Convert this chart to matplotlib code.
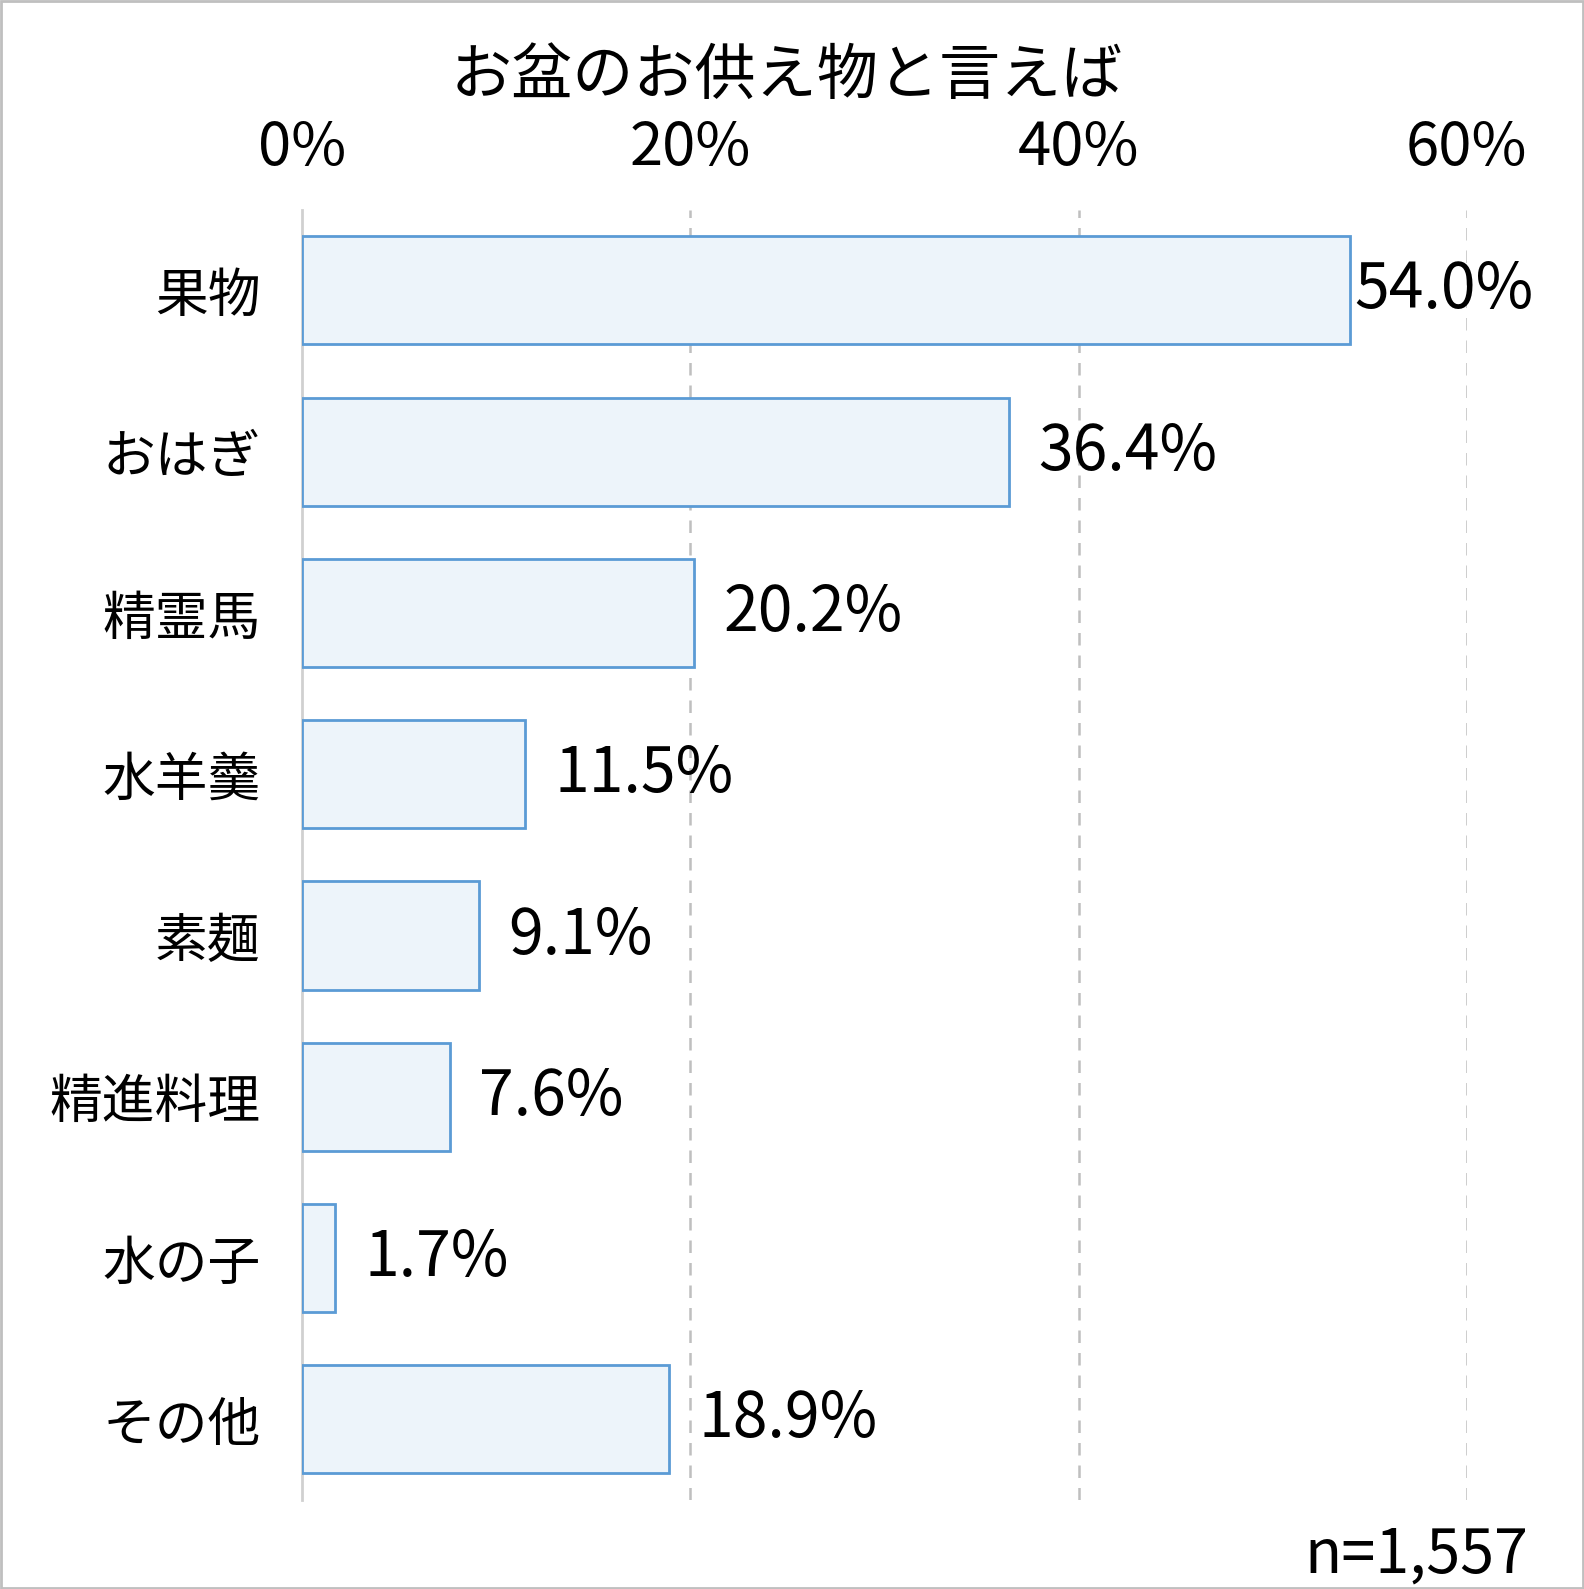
import matplotlib
matplotlib.use("Agg")
import matplotlib.pyplot as plt
from matplotlib.patches import Rectangle

plt.rcParams['font.family'] = ['Noto Sans CJK JP', 'DejaVu Sans']

categories = ["果物", "おはぎ", "精霊馬", "水羊羹", "素麺", "精進料理", "水の子", "その他"]
values = [54.0, 36.4, 20.2, 11.5, 9.1, 7.6, 1.7, 18.9]
ticks = [0, 20, 40, 60]
tick_labels = ["0%", "20%", "40%", "60%"]
title = "お盆のお供え物と言えば"
note = "n=1,557"

fig = plt.figure(figsize=(15.84, 15.89), dpi=100)
ax = fig.add_axes([0.1907, 0.056, 0.926 - 0.1907, 0.868 - 0.056])
y = list(range(len(categories)))
ax.barh(y, values, height=0.67, color="#EDF4FA", edgecolor="#5B9BD5", linewidth=2, zorder=3)
ax.set_ylim(len(categories) - 0.5, -0.5)
ax.set_xlim(0, 60)
ax.set_yticks(y)
ax.set_yticklabels(categories, fontsize=38)
ax.tick_params(axis='y', length=0, pad=30)
ax.xaxis.tick_top()
ax.set_xticks(ticks)
ax.set_xticklabels(tick_labels, fontsize=43)
ax.tick_params(axis='x', length=0, pad=22)
for t in ticks[1:]:
    ax.axvline(t, color="#BFBFBF", linestyle=(0, (5, 4)), linewidth=1.8, zorder=1)
for s in ["top", "right", "bottom"]:
    ax.spines[s].set_visible(False)
ax.spines["left"].set_color("#D0D0D0")
ax.spines["left"].set_linewidth(2)
for yi, v in zip(y, values):
    ax.text(v + 0.2 if v > 50 else v + 1.5, yi, f"{v:.1f}%", va="center", ha="left",
            fontsize=45, clip_on=False, zorder=4)
fig.text(0.497, 0.952, title, ha="center", va="center", fontsize=44)
fig.text(0.965, 0.021, note, ha="right", va="center", fontsize=44)
fig.add_artist(Rectangle((0.0005, 0.0005), 0.999, 0.999, transform=fig.transFigure,
                         fill=False, edgecolor="#BFBFBF", linewidth=2))
fig.savefig("out.png", dpi=100)
